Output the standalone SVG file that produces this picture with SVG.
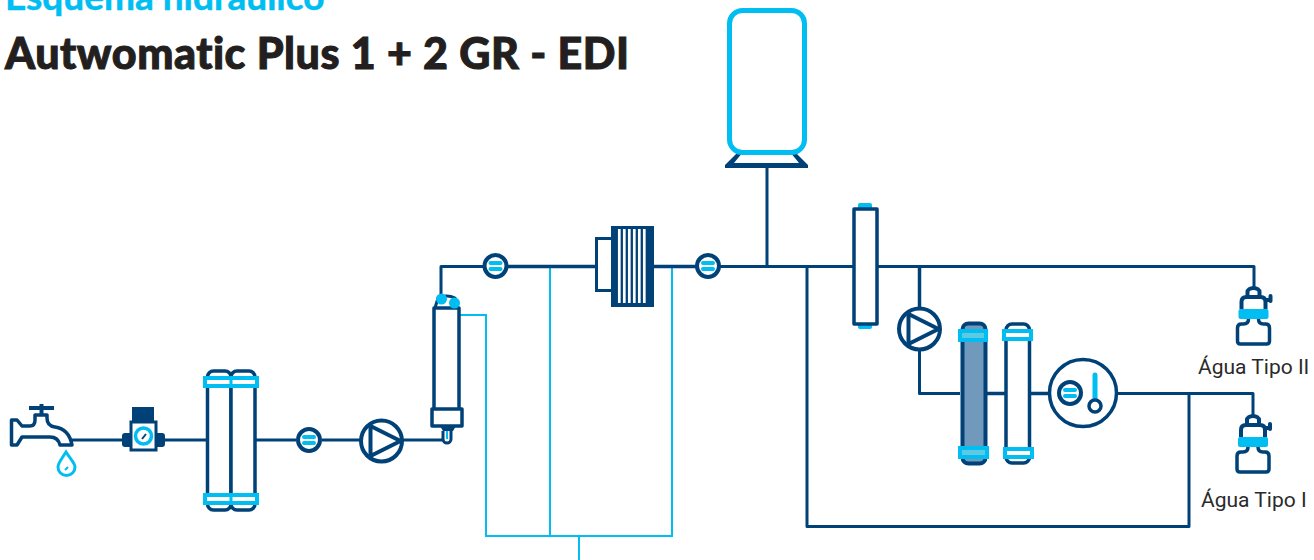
<svg xmlns="http://www.w3.org/2000/svg" width="1314" height="560" viewBox="0 0 1314 560">
<style>
.n{fill:none;stroke:#004178;stroke-width:3;stroke-linejoin:round}
.nt{fill:none;stroke:#004178;stroke-width:3.500;stroke-linejoin:round}
.nw{fill:#fff;stroke:#004178;stroke-width:3.500;stroke-linejoin:round}
.c{fill:none;stroke:#00bdf2;stroke-width:2}
.cap{fill:#fff;stroke:#00bdf2;stroke-width:4}
.capd{fill:#5fc9e3;stroke:#00bdf2;stroke-width:4}
.f{fill:#004178}
.cf{fill:#00bdf2}
.lab{font-family:Roboto,"Liberation Sans",sans-serif;font-size:21px;fill:#2a2a2a}
.ttl{font-family:Lato,"Open Sans",sans-serif}
</style>
<defs>
<g id="flow"><circle r="11" fill="#fff" stroke="#004178" stroke-width="4"/><rect x="-7" y="-5" width="14" height="4" rx="2" fill="#00bdf2"/><rect x="-7" y="1" width="14" height="4" rx="2" fill="#00bdf2"/></g>
<g id="pump"><circle r="20.500" fill="#fff" stroke="#004178" stroke-width="4"/><path d="M-11 -15V15L19 0Z" fill="none" stroke="#004178" stroke-width="4" stroke-linejoin="round"/></g>
<g id="bottle">
<path d="M-6 -12V-17a6 4 0 0 1 12 0V-12" fill="#fff" stroke="#004178" stroke-width="4"/>
<path d="M-12 0V-7Q-12 -12 -7 -12H7Q12 -12 12 -7V0" fill="#fff" stroke="#004178" stroke-width="4"/>
<path d="M12 -9H16" stroke="#004178" stroke-width="4"/><rect x="15" y="-15" width="4" height="9" rx="2" fill="#004178"/>
<path d="M-5 10Q-5 15 -10 15H-12Q-16 15 -16 19V32Q-16 35 -13 35H13Q16 35 16 32V19Q16 15 12 15H10Q5 15 5 10" fill="#fff" stroke="#004178" stroke-width="3.500" stroke-linejoin="round"/>
<rect x="-15" y="0" width="30" height="10" rx="2" fill="#00bdf2"/></g>
</defs>
<text class="ttl" x="5" y="10" font-size="37" font-weight="700" stroke="#00bdf2" stroke-width=".5" fill="#00bdf2">Esquema hidráulico</text>
<text class="ttl" x="5" y="69" font-size="43" font-weight="900" letter-spacing=".52" stroke="#231f20" stroke-width="1" fill="#231f20">Autwomatic Plus 1 + 2 GR - EDI</text>
<g id="connectors">
<path class="c" d="M460 315H486V536H672V266.500M550 266.500V536M579 536V560"/>
<path class="n" d="M72 440H124M164 440H207M255 440H296M322 440H360M403 440H445"/>
<path class="n" d="M441 297V266.500H484M720 266.500H853M877 266.500H1254V290"/>
<path class="nt" d="M508 266.500H596M652 266.500H696"/>
<path class="n" d="M767 166V266.500M807 266.500V526.500H1189V393.500"/>
<path class="nt" d="M919.500 266.500V310"/>
<path class="n" d="M919.500 350V393.500H960M1117 393.500H1253V416"/>
<path class="nt" d="M984 393.500H1005M1030 393.500H1049"/>
</g>
<g id="faucet">
<path d="M11.500 420H17L22 426H30Q35 426 35 420V415H47V418Q47 426 55 427Q69 429 72 445H60Q58 437 50 437H22L17 445H11.500Z" fill="#fff" stroke="#004178" stroke-width="3.500" stroke-linejoin="round"/>
<path d="M41.500 415V404M29 408H54" fill="none" stroke="#004178" stroke-width="4"/>
<path d="M66 452C61 460 58 463 58 467A8 8 0 0 0 75 467C75 463 71 460 66 452Z" fill="#fff" stroke="#00bdf2" stroke-width="3"/>
<path d="M65 470L68 467" stroke="#00bdf2" stroke-width="2"/>
</g>
<g id="regulator">
<rect class="f" x="132" y="407" width="22" height="15"/>
<rect class="f" x="122" y="433" width="12" height="14" rx="3"/><rect class="f" x="153" y="433" width="12" height="14" rx="3"/>
<rect x="131" y="422" width="25" height="28" fill="#fff" stroke="#004178" stroke-width="3"/>
<circle cx="143.500" cy="436" r="8" fill="#fff" stroke="#00bdf2" stroke-width="3.500"/>
<path d="M142 439L146 434" stroke="#004178" stroke-width="2"/>
</g>
<g id="filter-pair">
<rect class="nw" x="207.500" y="371" width="23.500" height="139" rx="6"/><rect class="nw" x="231" y="371" width="24" height="139" rx="6"/>
<rect class="cap" x="205" y="378" width="52" height="8"/>
<rect class="cap" x="205" y="495" width="52" height="8"/>
<path stroke="#00bdf2" stroke-width="3" d="M231 378v8M231 495v8"/>
</g>
<g id="flow-1"><use href="#flow" x="309" y="440"/></g>
<g id="pump-1"><use href="#pump" x="381.500" y="441"/></g>
<g id="module">
<path class="n" d="M435 308L438 298Q447 294 455 298L458 308"/>
<rect class="nw" x="434" y="308" width="25" height="103"/>
<rect class="nw" x="432" y="409" width="30" height="17"/>
<path class="f" d="M440 426H456L453 431H443Z"/>
<path d="M443 431V439a4 4 0 0 0 8 0V431" fill="#fff" stroke="#004178" stroke-width="3"/>
<path stroke="#00bdf2" stroke-width="2" d="M447 431v8"/>
<circle class="cf" cx="441.500" cy="299" r="5.500"/><circle class="cf" cx="454.500" cy="303" r="5.500"/>
</g>
<g id="flow-2"><use href="#flow" x="495.500" y="266"/></g>
<g id="stack">
<rect x="596.500" y="238.500" width="16" height="52" fill="#fff" stroke="#004178" stroke-width="3"/>
<rect class="f" x="611" y="226" width="43" height="81"/>
<path stroke="#fff" stroke-width="2.700" d="M619.300 229V303M624.300 229V303M629.300 229V303M634.300 229V303M639.300 229V303M644.300 229V303" fill="none"/>
</g>
<g id="flow-3"><use href="#flow" x="708" y="266"/></g>
<g id="tank">
<path class="f" d="M738 152L725 165V168H808V165L795 152H790L799 163H734L743 152Z"/>
<rect x="729.500" y="10.500" width="75" height="142" rx="13" fill="#fff" stroke="#00bdf2" stroke-width="5"/>
</g>
<g id="uv">
<rect class="cf" x="858" y="203" width="14" height="6" rx="2"/><rect class="cf" x="858" y="323" width="14" height="6" rx="2"/>
<rect class="nw" x="854" y="209" width="23" height="115"/>
</g>
<g id="pump-2"><use href="#pump" x="919.500" y="329"/></g>
<g id="cartridge-1">
<rect x="962.500" y="323.500" width="23" height="140" rx="6" fill="#7099bb" stroke="#004178" stroke-width="4"/>
<rect class="capd" x="960" y="331" width="26" height="9"/>
<rect class="capd" x="960" y="448" width="27" height="9"/>
</g>
<g id="cartridge-2">
<rect class="nw" x="1006" y="324" width="23.500" height="139" rx="6"/>
<rect class="cap" x="1004" y="331" width="27" height="8"/>
<rect class="cap" x="1005" y="449" width="27" height="8"/>
</g>
<g id="sensor">
<circle cx="1083" cy="393" r="33.500" fill="#fff" stroke="#004178" stroke-width="3.500"/>
<use href="#flow" x="1070" y="393"/>
<path stroke="#00bdf2" stroke-width="5" stroke-linecap="round" d="M1095 375V398"/>
<circle cx="1095" cy="406" r="6" fill="#fff" stroke="#004178" stroke-width="3.500"/>
</g>
<g id="outlet-1"><use href="#bottle" x="1253.500" y="309"/><text class="lab" x="1198" y="374">Água Tipo II</text></g>
<g id="outlet-2"><use href="#bottle" x="1253" y="437"/><text class="lab" x="1201" y="507">Água Tipo I</text></g>
</svg>
